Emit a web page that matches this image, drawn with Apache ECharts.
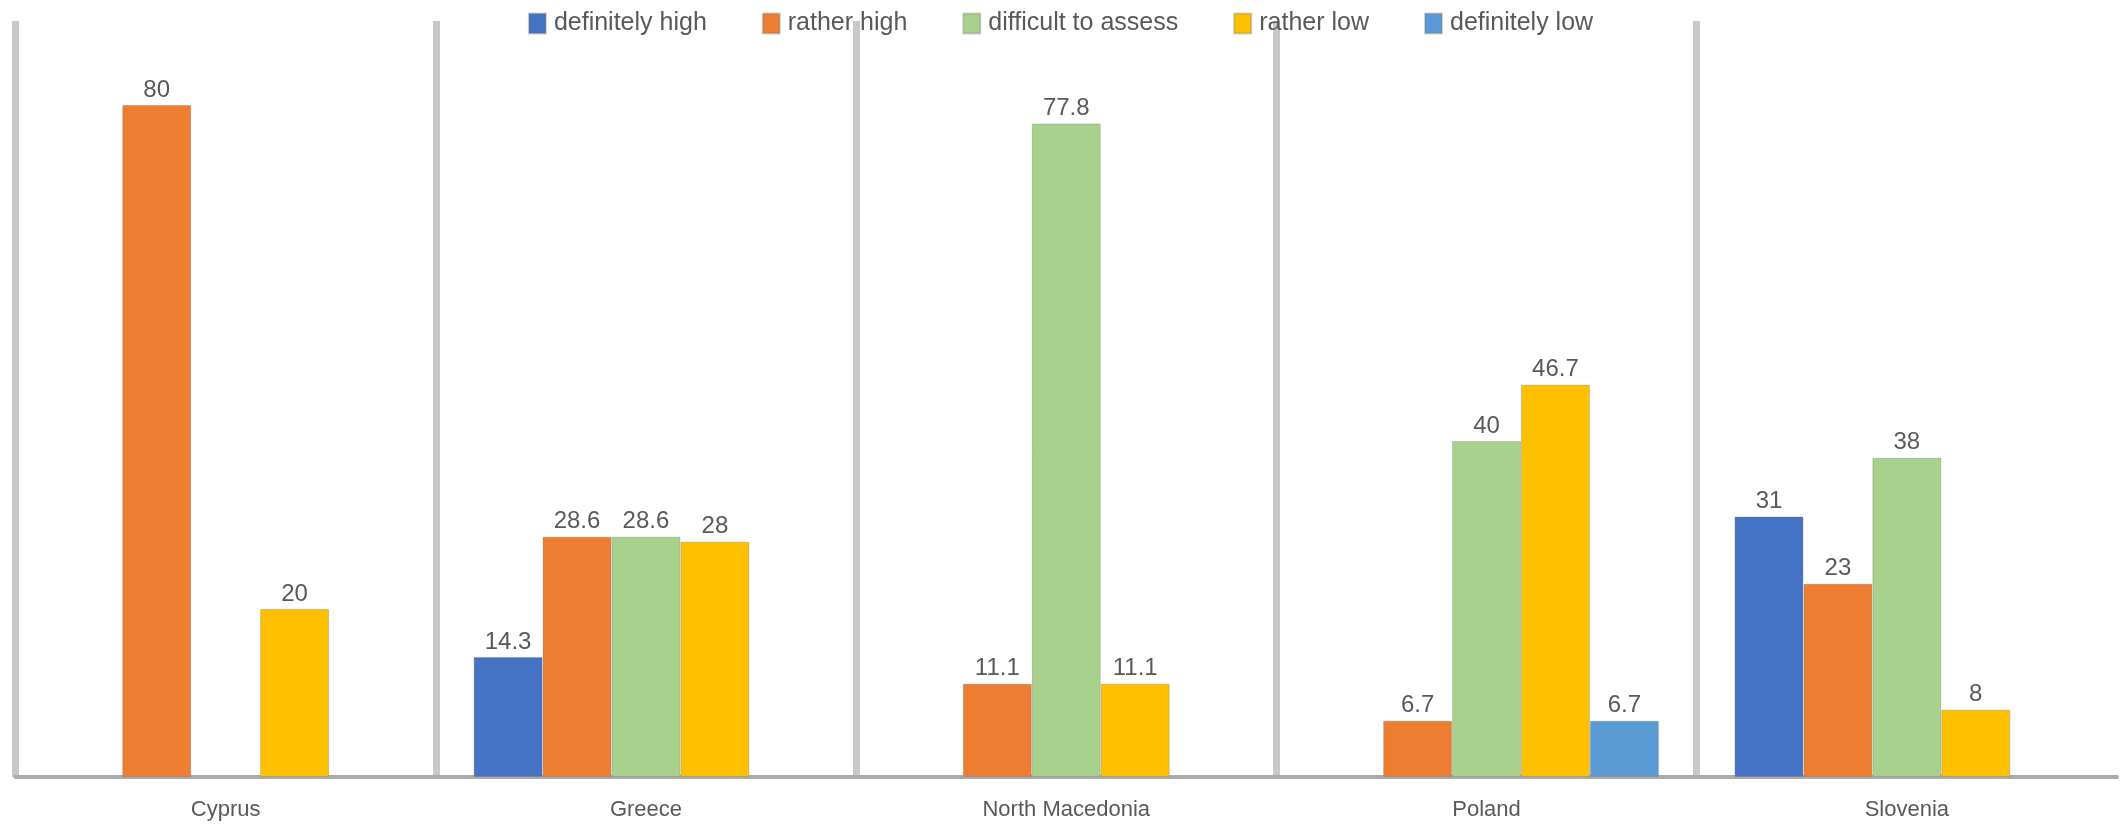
<!DOCTYPE html>
<html>
<head>
<meta charset="utf-8">
<script src="https://cdn.jsdelivr.net/npm/echarts@6/dist/echarts.min.js"></script>
<style>
  html, body { margin: 0; padding: 0; background: #ffffff; }
  #chart { width: 2121px; height: 825px; }
</style>
</head>
<body>
<div id="chart"></div>
<script>
const categories = ['Cyprus', 'Greece', 'North Macedonia', 'Poland', 'Slovenia'];
const seriesNames = ['definitely high', 'rather high', 'difficult to assess', 'rather low', 'definitely low'];
const definitelyHigh = ['-', 14.3, '-', '-', 31];
const ratherHigh = [80, 28.6, 11.1, 6.7, 23];
const difficultToAssess = ['-', 28.6, 77.8, 40, 38];
const ratherLow = [20, 28, 11.1, 46.7, 8];
const definitelyLow = ['-', '-', '-', 6.7, '-'];
const colors = ['#4472C4', '#ED7D31', '#A9D18E', '#FFC000', '#5B9BD5'];

const seriesData = [definitelyHigh, ratherHigh, difficultToAssess, ratherLow, definitelyLow];

const chart = echarts.init(document.getElementById('chart'), null, { renderer: 'canvas' });

chart.setOption({
  animation: false,
  backgroundColor: '#ffffff',
  color: colors,
  legend: {
    top: 6,
    left: 'center',
    itemWidth: 17,
    itemHeight: 20,
    itemGap: 55,
    icon: 'rect',
    textStyle: { fontFamily: 'Liberation Sans', fontSize: 25, color: '#595959', padding: [0, 0, 0, 3] },
    data: seriesNames
  },
  grid: { left: 15.5, right: 4, top: 21, bottom: 48, containLabel: false },
  xAxis: {
    type: 'category',
    data: categories,
    boundaryGap: true,
    axisLine: { show: true, lineStyle: { color: '#ABABAB', width: 4 } },
    axisTick: { show: false },
    axisLabel: { fontFamily: 'Liberation Sans', fontSize: 22, color: '#595959', margin: 22 },
    splitLine: { show: true, showMinLine: true, showMaxLine: false, lineStyle: { color: '#C8C8C8', width: 7 } }
  },
  yAxis: {
    type: 'value',
    min: 0,
    max: 90,
    show: false,
    splitLine: { show: false }
  },
  series: seriesNames.map((name, i) => ({
    name: name,
    type: 'bar',
    data: seriesData[i],
    barGap: '0%',
    barCategoryGap: '18%',
    itemStyle: { color: colors[i], borderColor: 'rgba(110,110,110,0.3)', borderWidth: 1 },
    label: {
      show: true,
      position: 'top',
      distance: 3,
      fontFamily: 'Liberation Sans',
      fontSize: 24,
      color: '#595959'
    }
  }))
});
</script>
</body>
</html>
